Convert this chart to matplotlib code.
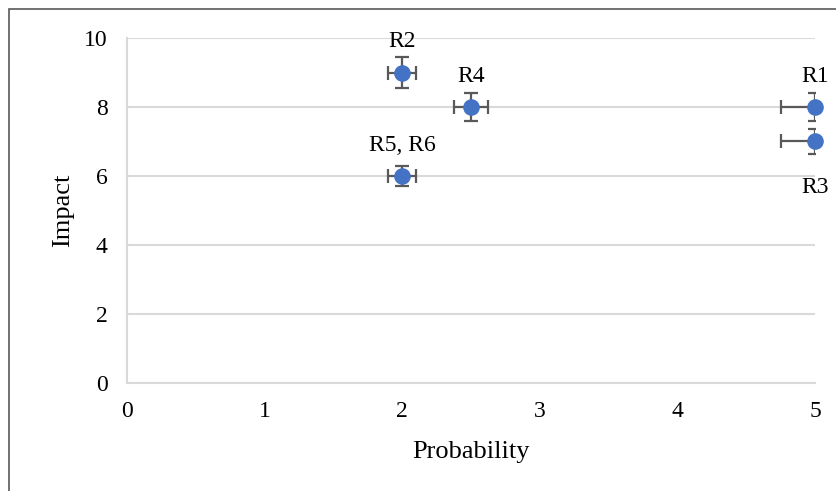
import matplotlib
matplotlib.use('Agg')
import matplotlib.pyplot as plt
from matplotlib.patches import Rectangle

# Risk data
risks = ["R1", "R2", "R3", "R4", "R5, R6"]
probability = [5, 2, 5, 2.5, 2]
impact = [8, 9, 7, 8, 6]
# 5% error bars as shown in the chart
x_err = [0.05 * p for p in probability]
y_err = [0.05 * i for i in impact]
label_above = [True, True, False, True, True]

plt.rcParams['font.family'] = ['Liberation Serif', 'DejaVu Serif']

fig = plt.figure(figsize=(8.37, 4.91), dpi=100)
ax = fig.add_axes([0.1517, 0.22, 0.822, 0.7026])

# outer frame of the chart area
fig.patches.append(Rectangle((9 / 837, -0.1), 1.2, (491 - 9) / 491 + 0.1,
                             transform=fig.transFigure, fill=False,
                             edgecolor="#595959", linewidth=1.2))

ax.errorbar(probability, impact, xerr=x_err, yerr=y_err, fmt="none",
            ecolor="#595959", elinewidth=1.6, capsize=5, capthick=1.6, zorder=3)
ax.scatter(probability, impact, s=120, color="#4472C4", zorder=4, clip_on=False)

for name, x, y, up in zip(risks, probability, impact, label_above):
    ax.annotate(name, (x, y), xytext=(0, 22 if up else -33), textcoords="offset points",
                ha="center", va="center", fontsize=17, color="black")

ax.set_xlim(0, 5)
ax.set_ylim(0, 10)
ax.set_xticks(range(0, 6))
ax.set_yticks(range(0, 11, 2))
ax.grid(axis="y", color="#D9D9D9", linewidth=1.5)
ax.set_axisbelow(True)
for side in ["top", "right"]:
    ax.spines[side].set_visible(False)
for side in ["left", "bottom"]:
    ax.spines[side].set_color("#D9D9D9")
    ax.spines[side].set_linewidth(1.5)
ax.tick_params(length=0, labelsize=17)
ax.tick_params(axis="x", pad=13)
ax.tick_params(axis="y", pad=14)
ax.set_xlabel("Probability", fontsize=19, labelpad=14)
ax.set_ylabel("Impact", fontsize=19, labelpad=7)

fig.savefig("out.png", dpi=100)
